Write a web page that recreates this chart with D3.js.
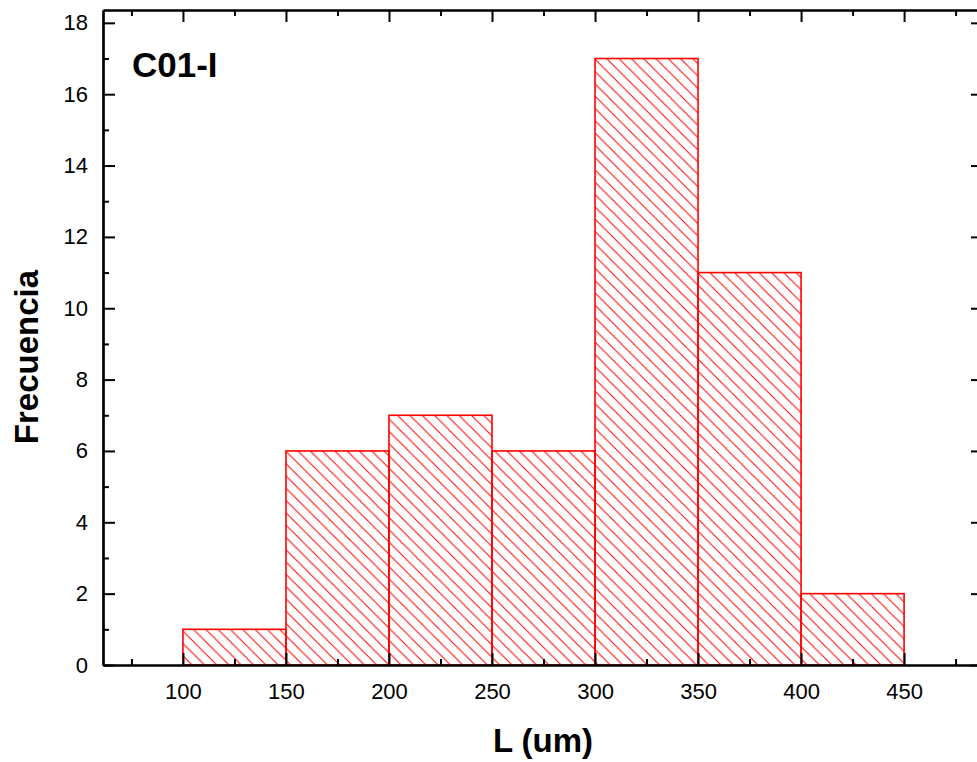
<!DOCTYPE html>
<html>
<head>
<meta charset="utf-8">
<script src="https://cdn.jsdelivr.net/npm/d3@7.9.0/dist/d3.min.js"></script>
<style>
  body { margin: 0; background: #fff; }
  svg { display: block; font-family: "Liberation Sans", Arial, sans-serif; }
</style>
</head>
<body>
<div id="chart"></div>
<script>
const binStarts = [100, 150, 200, 250, 300, 350, 400];
const binEnds = [150, 200, 250, 300, 350, 400, 450];
const counts = [1, 6, 7, 6, 17, 11, 2];
const xMajor = [100, 150, 200, 250, 300, 350, 400, 450];
const xMinor = [75, 125, 175, 225, 275, 325, 375, 425, 475];
const yMajor = [0, 2, 4, 6, 8, 10, 12, 14, 16, 18];
const yMinor = [1, 3, 5, 7, 9, 11, 13, 15, 17];

const width = 977, height = 762;
const margin = { top: 10, right: -6, bottom: 97, left: 103 };
const innerW = width - margin.left - margin.right;
const innerH = height - margin.top - margin.bottom;

const svg = d3.select("#chart").append("svg")
    .attr("width", width)
    .attr("height", height);

const hatch = 12.3;
svg.append("defs").append("pattern")
    .attr("id", "hatch")
    .attr("patternUnits", "userSpaceOnUse")
    .attr("width", hatch)
    .attr("height", hatch)
    .append("path")
    .attr("d", `M0,0L${hatch},${hatch}M${-hatch / 2},${hatch / 2}L${hatch / 2},${hatch * 1.5}M${hatch / 2},${-hatch / 2}L${hatch * 1.5},${hatch / 2}`)
    .attr("stroke", "#ff0000")
    .attr("stroke-width", 1);

const chart = svg.append("g")
    .attr("transform", "translate(" + margin.left + "," + margin.top + ")");

const x = d3.scaleLinear().domain([61.2, 488.3]).range([0, innerW]);
const y = d3.scaleLinear().domain([0, 18.36]).range([innerH, 0]);

const bars = binStarts.map((s, i) => ({ x0: s, x1: binEnds[i], n: counts[i] }));

chart.selectAll("rect.bar")
    .data(bars)
    .join("rect")
    .attr("class", "bar")
    .attr("x", d => x(d.x0))
    .attr("y", d => y(d.n))
    .attr("width", d => x(d.x1) - x(d.x0))
    .attr("height", d => y(0) - y(d.n))
    .attr("fill", "url(#hatch)")
    .attr("stroke", "#ff0000")
    .attr("stroke-width", 1.6);

function styleAxis(g) {
    g.attr("font-family", "Liberation Sans, Arial, sans-serif");
    g.select(".domain").attr("stroke-width", 2.2).attr("stroke", "#000");
    g.selectAll(".tick line").attr("stroke-width", 2).attr("stroke", "#000");
    g.selectAll(".tick text").attr("fill", "#000").style("font-size", "22px");
}

// bottom
chart.append("g")
    .attr("transform", "translate(0," + innerH + ")")
    .call(d3.axisBottom(x).tickValues(xMinor).tickSize(-6).tickSizeOuter(0).tickFormat(""))
    .call(styleAxis);
chart.append("g")
    .attr("transform", "translate(0," + innerH + ")")
    .call(d3.axisBottom(x).tickValues(xMajor).tickSize(-12).tickSizeOuter(0).tickPadding(18).tickFormat(d3.format("d")))
    .call(styleAxis);

// top
chart.append("g")
    .call(d3.axisTop(x).tickValues(xMinor).tickSize(-6).tickSizeOuter(0).tickFormat(""))
    .call(styleAxis);
chart.append("g")
    .call(d3.axisTop(x).tickValues(xMajor).tickSize(-12).tickSizeOuter(0).tickFormat(""))
    .call(styleAxis);

// left
chart.append("g")
    .call(d3.axisLeft(y).tickValues(yMinor).tickSize(-6).tickSizeOuter(0).tickFormat(""))
    .call(styleAxis);
chart.append("g")
    .call(d3.axisLeft(y).tickValues(yMajor).tickSize(-12).tickSizeOuter(0).tickPadding(15).tickFormat(d3.format("d")))
    .call(styleAxis);

// right
chart.append("g")
    .attr("transform", "translate(" + innerW + ",0)")
    .call(d3.axisRight(y).tickValues(yMinor).tickSize(-6).tickSizeOuter(0).tickFormat(""))
    .call(styleAxis);
chart.append("g")
    .attr("transform", "translate(" + innerW + ",0)")
    .call(d3.axisRight(y).tickValues(yMajor).tickSize(-12).tickSizeOuter(0).tickFormat(""))
    .call(styleAxis);

svg.append("text")
    .attr("x", 132)
    .attr("y", 77)
    .attr("font-weight", "bold")
    .style("font-size", "35px")
    .text("C01-I");

svg.append("text")
    .attr("x", margin.left + innerW / 2)
    .attr("y", 752)
    .attr("text-anchor", "middle")
    .attr("font-weight", "bold")
    .style("font-size", "33px")
    .text("L (um)");

svg.append("text")
    .attr("transform", "rotate(-90)")
    .attr("x", -357)
    .attr("y", 38)
    .attr("text-anchor", "middle")
    .attr("font-weight", "bold")
    .style("font-size", "33px")
    .text("Frecuencia");
</script>
</body>
</html>
